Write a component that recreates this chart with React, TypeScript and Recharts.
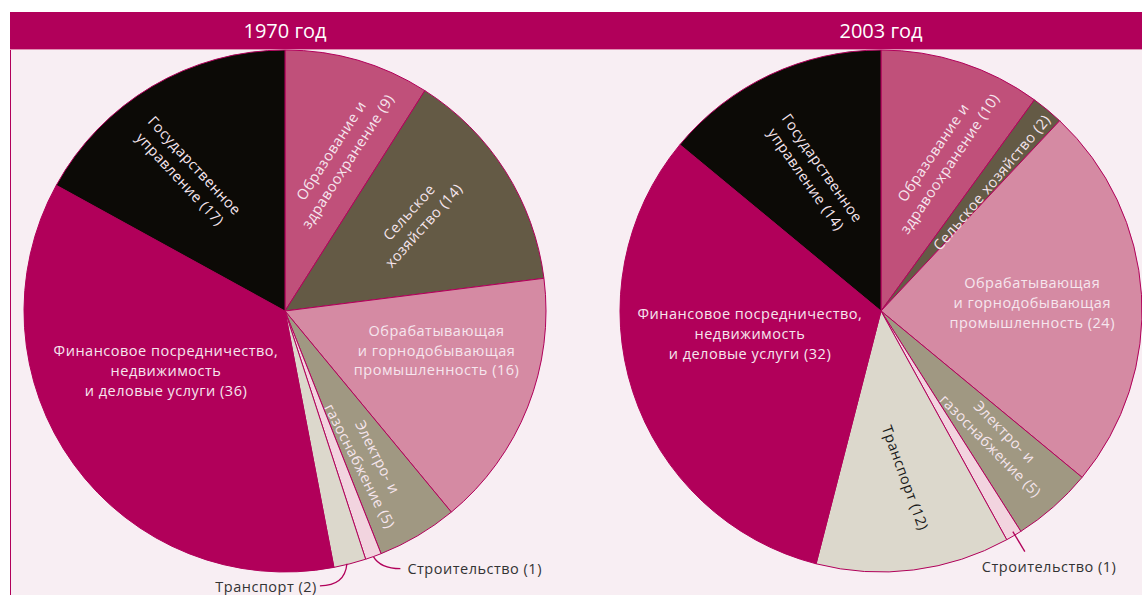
import React from 'react';
import { PieChart, Pie, Cell } from 'recharts';

const CATEGORIES = [
  'Образование и здравоохранение',
  'Сельское хозяйство',
  'Обрабатывающая и горнодобывающая промышленность',
  'Электро- и газоснабжение',
  'Строительство',
  'Транспорт',
  'Финансовое посредничество, недвижимость и деловые услуги',
  'Государственное управление',
];
const VALUES_1970 = [9, 14, 16, 5, 1, 2, 36, 17];
const VALUES_2003 = [10, 2, 24, 5, 1, 12, 32, 14];
const YEARS = ['1970 год', '2003 год'];

const LINES_1970 = [
  ['Образование и', 'здравоохранение'],
  ['Сельское', 'хозяйство'],
  ['Обрабатывающая', 'и горнодобывающая', 'промышленность'],
  ['Электро- и', 'газоснабжение'],
  ['Строительство'],
  ['Транспорт'],
  ['Финансовое посредничество,', 'недвижимость', 'и деловые услуги'],
  ['Государственное', 'управление'],
];
const LINES_2003 = [
  ['Образование и', 'здравоохранение'],
  ['Сельское хозяйство'],
  ['Обрабатывающая', 'и горнодобывающая', 'промышленность'],
  ['Электро- и', 'газоснабжение'],
  ['Строительство'],
  ['Транспорт'],
  ['Финансовое посредничество,', 'недвижимость', 'и деловые услуги'],
  ['Государственное', 'управление'],
];

const SLICE_COLORS = ['#c0507a', '#645a45', '#d58aa3', '#a09882', '#f2d4df', '#dcd8cc', '#b1005a', '#0c0a06'];
const MAGENTA = '#b1005a';
const LIGHT = '#f6e6ee';
const DARK = '#1a1a1a';
const OUT = '#333333';
const FONT = '"Open Sans", "Noto Sans", sans-serif';
const FS = 14.5;
const LS = 0.5;
const LH = 19.9;

type Layout = {
  dA?: number; rf?: number; rot?: number; color?: string;
  out?: { path: number[]; tx: number; ty: number; anchor: string; straight?: boolean };
};

const LAYOUT_1970: Layout[] = [
  { dA: 3.2, rf: 0.63, rot: -57, color: LIGHT },
  { dA: -2.6, rf: 0.615, rot: -48, color: LIGHT },
  { dA: -7, rf: 0.6, rot: 0, color: LIGHT },
  { dA: 1.6, rf: 0.66, rot: 63, color: LIGHT },
  { out: { path: [0, 0, 7, 12, 27, 12], tx: 34, ty: 12, anchor: 'start' } },
  { out: { path: [-3, 0, -5, 22, -30, 22], tx: -33, ty: 23, anchor: 'end' } },
  { dA: 9.4, rf: 0.51, rot: 0, color: LIGHT },
  { dA: -4.6, rf: 0.65, rot: 47, color: LIGHT },
];
const LAYOUT_2003: Layout[] = [
  { dA: 3.6, rf: 0.63, rot: -56, color: LIGHT },
  { dA: 1.2, rf: 0.65, rot: -49.7, color: LIGHT },
  { dA: 0.6, rf: 0.58, rot: 0, color: LIGHT },
  { dA: -0.9, rf: 0.663, rot: 45.5, color: LIGHT },
  { out: { path: [-1, -4, 11, 16], tx: -32, ty: 31, anchor: 'start', straight: true } },
  { dA: -1, rf: 0.646, rot: 70, color: DARK },
  { dA: 8, rf: 0.51, rot: 0, color: LIGHT },
  { dA: -0.8, rf: 0.585, rot: 55, color: LIGHT },
];

const W = 1142;
const H = 595;
const R = 261;
const CY = 311;
const CX = [285, 881];

const makeData = (values: number[]) => CATEGORIES.map((name, i) => ({ name, value: values[i] }));

const makeLabel = (layout: Layout[], lines: string[][]) => (props: any) => {
  const { cx, cy, midAngle, outerRadius, index, value } = props;
  const L = layout[index];
  const txt = lines[index].slice();
  txt[txt.length - 1] = `${txt[txt.length - 1]} (${value})`;
  const theta = 90 - midAngle;
  const RAD = Math.PI / 180;
  if (L.out) {
    const ex = cx + outerRadius * Math.sin(theta * RAD);
    const ey = cy - outerRadius * Math.cos(theta * RAD);
    const p = L.out.path;
    const d = L.out.straight
      ? `M${ex + p[0]},${ey + p[1]} L${ex + p[2]},${ey + p[3]}`
      : `M${ex + p[0]},${ey + p[1]} Q${ex + p[2]},${ey + p[3]} ${ex + p[4]},${ey + p[5]}`;
    return (
      <g key={`l${index}`}>
        <path d={d} stroke={MAGENTA} strokeWidth={1.3} fill="none" />
        <text x={ex + L.out.tx} y={ey + L.out.ty} dy="0.35em" textAnchor={L.out.anchor as any}
          fill={OUT} fontSize={FS} letterSpacing={LS} fontFamily={FONT}>{txt[0]}</text>
      </g>
    );
  }
  const t = (theta + (L.dA || 0)) * RAD;
  const r = outerRadius * (L.rf || 0.6);
  const x = cx + r * Math.sin(t);
  const y = cy - r * Math.cos(t);
  return (
    <text key={`l${index}`} transform={`translate(${x},${y}) rotate(${L.rot || 0})`} textAnchor="middle"
      fill={L.color} fontSize={FS} letterSpacing={LS} fontFamily={FONT}>
      {txt.map((s, k) => (
        <tspan key={k} x={0} y={(k - (txt.length - 1) / 2) * LH} dy="0.35em">{s}</tspan>
      ))}
    </text>
  );
};

export default function App() {
  const pies = [
    { values: VALUES_1970, layout: LAYOUT_1970, lines: LINES_1970 },
    { values: VALUES_2003, layout: LAYOUT_2003, lines: LINES_2003 },
  ];
  return (
    <div style={{ position: 'absolute', left: 0, top: 0, width: W, height: H, background: '#ffffff', overflow: 'hidden', fontFamily: FONT }}>
      <div style={{ position: 'absolute', left: 10, top: 49, width: W - 10, height: H - 49, background: '#f8eef3', borderLeft: `1px solid ${MAGENTA}` }} />
      <div style={{ position: 'absolute', left: 10, top: 12, width: W - 10, height: 37, background: MAGENTA, borderBottom: '1px solid #e08fb2' }} />
      {YEARS.map((y, i) => (
        <div key={y} style={{ position: 'absolute', left: CX[i] - 100, top: 12, width: 200, height: 37, lineHeight: '37px', textAlign: 'center', color: '#ffffff', fontSize: 20 }}>{y}</div>
      ))}
      <div style={{ position: 'absolute', left: 0, top: 0 }}>
        <PieChart width={W} height={H} margin={{ top: 0, right: 0, bottom: 0, left: 0 }}>
          {pies.map((p, i) => (
            <Pie
              key={i}
              data={makeData(p.values)}
              dataKey="value"
              nameKey="name"
              cx={CX[i]}
              cy={CY}
              outerRadius={R}
              startAngle={90}
              endAngle={-270}
              stroke={MAGENTA}
              strokeWidth={1}
              isAnimationActive={false}
              labelLine={false}
              label={makeLabel(p.layout, p.lines)}
            >
              {p.values.map((_, k) => (
                <Cell key={k} fill={SLICE_COLORS[k]} />
              ))}
            </Pie>
          ))}
        </PieChart>
      </div>
    </div>
  );
}
